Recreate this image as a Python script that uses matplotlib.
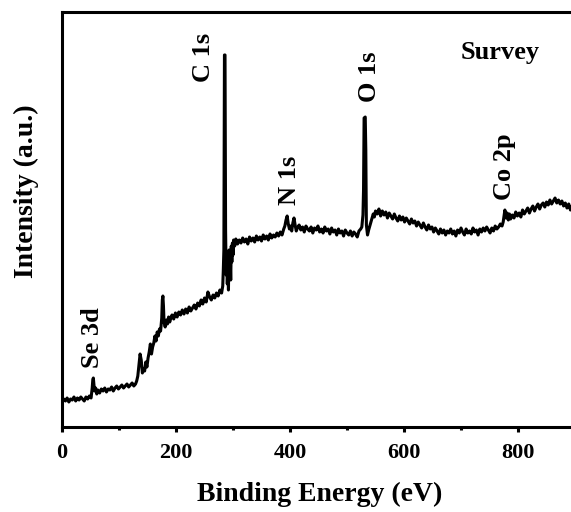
import matplotlib
matplotlib.use("Agg")
import matplotlib.pyplot as plt
from matplotlib.ticker import MultipleLocator

plt.rcParams['font.family'] = ['Liberation Serif', 'DejaVu Serif']
plt.rcParams['font.weight'] = 'bold'

# Binding energy (eV) sample positions and trace height (a.u.)
# (height given as distance below the frame top in image pixels, converted below)
e_seg1 = list(range(0, 52, 3))
p_seg1 = [402, 399, 401, 398, 402, 399, 400, 397, 401, 398, 400, 397, 399, 401, 397, 399, 396, 398]
e_se = [53, 54, 55, 56, 57, 59, 61]
p_se = [388, 380, 378, 384, 391, 388, 394]
e_seg2 = list(range(63, 130, 3))
p_seg2 = [390, 393, 389, 391, 388, 392, 389, 390, 387, 391, 388, 386, 389, 387, 385, 388, 386, 384,
          387, 385, 383, 386, 384]
e_rise = [131, 133, 135, 137, 139, 141, 143, 145, 147, 149, 151, 153, 155, 157, 159, 161, 163, 165,
          167, 169, 171, 173, 175, 176, 177, 178, 179, 181, 183, 185, 187, 189, 191]
p_rise = [381, 376, 365, 354, 360, 373, 369, 371, 362, 367, 358, 352, 344, 354, 347, 343, 336, 341,
          332, 336, 329, 331, 318, 300, 296, 306, 322, 327, 320, 324, 317, 322, 318]
e_seg3 = list(range(193, 281, 3))
p_seg3 = [315, 319, 313, 317, 312, 315, 310, 314, 309, 313, 307, 311, 308, 305, 309, 303, 306, 300,
          304, 298, 302, 292, 297, 300, 295, 298, 293, 296, 290, 293]
e_c1s = [282, 283, 284, 285, 286, 287, 288, 289, 290, 291, 292, 293, 294, 295, 296, 297, 298, 299,
         300, 301, 303]
p_c1s = [286, 270, 250, 55, 55, 230, 275, 255, 284, 262, 290, 250, 272, 258, 280, 246, 262, 243,
         255, 240, 246]
e_seg4 = list(range(305, 384, 3))
p_seg4 = [239, 244, 240, 243, 238, 242, 239, 244, 237, 241, 238, 242, 236, 240, 237, 241, 235, 239,
          236, 240, 234, 238, 235, 237, 233, 236, 232]
e_n1s = [386, 389, 391, 393, 395, 397, 399, 401, 403, 405, 407, 409, 411, 413]
p_n1s = [235, 229, 226, 220, 216, 224, 229, 226, 231, 223, 218, 225, 231, 228]
e_seg5 = list(range(416, 525, 3))
p_seg5 = [225, 230, 227, 232, 226, 229, 231, 227, 233, 228, 230, 226, 232, 229, 233, 227, 231, 229,
          234, 228, 232, 230, 235, 229, 233, 231, 236, 230, 233, 235, 231, 236, 232, 234, 237, 231, 229]
e_o1s = [526, 528, 529, 530, 532, 533, 534, 536, 538, 540, 542, 544, 546, 548, 550]
p_o1s = [227, 215, 190, 118, 117, 150, 225, 235, 230, 226, 222, 218, 214, 217, 211]
e_seg6 = list(range(553, 773, 3))
p_seg6 = [214, 209, 216, 211, 215, 212, 218, 213, 216, 219, 214, 218, 221, 216, 220, 217,
          222, 218, 221, 224, 219, 223, 221, 226, 222, 225, 228, 223, 227, 230, 225, 229, 227, 232,
          228, 231, 234, 229, 233, 230, 235, 231,
          233, 229, 234, 231, 236, 230, 233, 228, 232, 235, 229, 233, 231, 234, 228, 232, 230, 235,
          229, 232, 228, 231, 227, 230, 233, 228, 231, 226, 229, 227, 224, 226]
e_co = [774, 776, 777, 779, 781, 783, 785, 787]
p_co = [222, 214, 210, 218, 213, 220, 214, 219]
e_seg7 = list(range(790, 899, 3))
p_seg7 = [215, 218, 212, 216, 213, 217, 210, 214, 211, 208, 213, 209, 206, 211, 207, 204, 209, 205,
          203, 207, 202, 205, 200, 204, 201, 198, 203, 200, 204, 201, 206, 203, 208, 204, 210, 206, 209]

energy = (e_seg1 + e_se + e_seg2 + e_rise + e_seg3 + e_c1s + e_seg4 + e_n1s + e_seg5 + e_o1s
          + e_seg6 + e_co + e_seg7)
pix = (p_seg1 + p_se + p_seg2 + p_rise + p_seg3 + p_c1s + p_seg4 + p_n1s + p_seg5 + p_o1s
       + p_seg6 + p_co + p_seg7)
intensity = [427 - p for p in pix]

peak_labels = ["Se 3d", "C 1s", "N 1s", "O 1s", "Co 2p"]
peak_x = [54, 249, 400, 540, 777]
peak_y = [59, 345, 222, 325, 227]

x_ticks = [0, 200, 400, 600, 800]

fig = plt.figure(figsize=(5.71, 5.12), dpi=100)
ax = fig.add_axes([62/571, 85/512, 570/571, 415/512])
ax.plot(energy, intensity, color='black', lw=2.2, solid_joinstyle='round')
ax.set_xlim(0, 1000)
ax.set_ylim(0, 415)
ax.set_xticks(x_ticks)
ax.xaxis.set_minor_locator(MultipleLocator(100))
ax.set_yticks([])
for s in ax.spines.values():
    s.set_linewidth(2.2)
ax.tick_params(axis='x', which='major', direction='out', length=3.8, width=2.2,
               labelsize=16, pad=8)
ax.tick_params(axis='x', which='minor', direction='out', length=2.3, width=2.2)
for lab in ax.get_xticklabels():
    lab.set_fontweight('bold')

ax.set_xlabel("Binding Energy (eV)", fontsize=20, fontweight='bold')
ax.set_ylabel("Intensity (a.u.)", fontsize=20, fontweight='bold')
ax.xaxis.set_label_coords((320 - 62) / 570, -(494 - 427) / 415)
ax.yaxis.set_label_coords(-(62 - 26) / 570, (427 - 191) / 415)
ax.xaxis.label.set_va('center')
ax.yaxis.label.set_va('center')

for t, x, y in zip(peak_labels, peak_x, peak_y):
    ax.text(x, y, t, rotation=90, ha='center', va='bottom', fontsize=19,
            fontweight='bold')
ax.text(768, 375, "Survey", ha='center', va='center', fontsize=19, fontweight='bold')

fig.savefig("out.png", dpi=100)
